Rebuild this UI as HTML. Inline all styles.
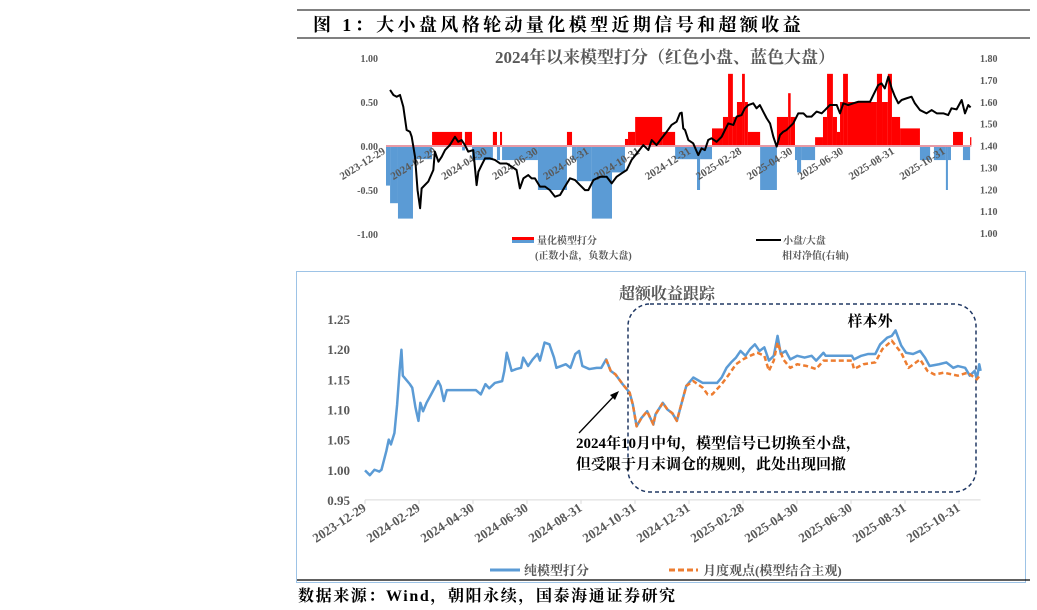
<!DOCTYPE html>
<html><head><meta charset="utf-8"><style>
html,body{margin:0;padding:0;background:#fff;}
svg{display:block;font-family:"Liberation Serif","Noto Serif CJK SC",serif;}
</style></head><body>
<svg id="c" width="1037" height="610" viewBox="0 0 1037 610" xmlns="http://www.w3.org/2000/svg">
<line x1="297" y1="10" x2="1030" y2="10" stroke="#000" stroke-width="1"/>
<text x="313" y="31" font-size="18" font-weight="bold" letter-spacing="3.4">图 1：大小盘风格轮动量化模型近期信号和超额收益</text>
<line x1="297" y1="38" x2="1030" y2="38" stroke="#000" stroke-width="1"/>
<g id="top"></g>
<rect x="296.5" y="271.5" width="729" height="311" fill="none" stroke="#9dc3e6" stroke-width="1"/>
<g id="bot"></g>
<line x1="297" y1="580" x2="1030" y2="580" stroke="#000" stroke-width="1.2"/>
<text x="298" y="601" font-size="16" font-weight="bold" letter-spacing="1.6">数据来源：Wind，朝阳永续，国泰海通证券研究</text>
</svg>
<script>
const NS="http://www.w3.org/2000/svg";
const dateTicks=["2023-12-29","2024-02-29","2024-04-30","2024-06-30","2024-08-31","2024-10-31","2024-12-31","2025-02-28","2025-04-30","2025-06-30","2025-08-31","2025-10-31"];
const tickMonths=[0,2,4,6,8,10,12,14,16,18,20,22];
const leftTicks=[1.00,0.50,0.00,-0.50,-1.00];
const rightTicks=[1.80,1.70,1.60,1.50,1.40,1.30,1.20,1.10,1.00];
const scoreT=[0,0.16,0.47,1.06,1.81,2.99,3.10,3.38,4.20,4.36,4.48,4.56,5.97,7.11,7.31,7.50,8.09,8.88,9.39,9.51,9.79,10.85,11.36,12.22,12.34,12.81,13.24,13.44,13.63,13.79,13.99,14.10,14.22,14.70,15.36,15.80,15.90,16.07,16.15,16.31,16.86,17.17,17.33,17.56,17.72,17.84,17.96,18.15,19.29,19.49,19.72,19.88,20.20,20.98,21.38,21.53,22.0,22.08,22.20,22.28,22.67,22.95,23.0];
const scoreV=[-0.45,-0.65,-0.825,-0.15,0.16,-0.05,0.16,-0.16,0.16,-0.16,0.16,-0.16,-0.5,0.16,-0.16,-0.4,-0.825,-0.3,0.08,0.16,0.33,0.16,-0.15,-0.5,-0.15,0.2,0.33,0.82,0.33,0.5,0.82,0.5,0.16,-0.5,0.33,0.6,0.33,-0.16,-0.3,-0.16,0.1,0.33,0.82,0.33,0.16,0.5,0.82,0.5,0.82,0.5,0.82,0.33,0.2,-0.16,0,-0.16,-0.5,-0.16,0,0.16,-0.16,0.1];
const navT=[0.16,0.29,0.42,0.55,0.68,0.81,0.94,1.01,1.14,1.24,1.34,1.40,1.66,1.86,1.92,2.06,2.19,2.32,2.51,2.71,2.84,2.97,3.10,3.23,3.43,3.56,3.63,3.76,3.89,4.09,4.28,4.48,4.74,4.94,5.13,5.26,5.40,5.59,5.72,5.85,6.05,6.25,6.44,6.64,6.84,7.03,7.23,7.43,7.62,7.82,7.95,8.15,8.41,8.67,8.87,9.06,9.26,9.46,9.65,9.91,10.11,10.31,10.44,10.63,10.83,11.03,11.22,11.42,11.55,11.62,11.68,11.75,11.88,12.07,12.27,12.40,12.53,12.66,12.79,12.99,13.19,13.32,13.45,13.65,13.78,13.97,14.10,14.24,14.43,14.56,14.69,14.82,14.96,15.09,15.22,15.35,15.48,15.61,15.74,15.87,16.00,16.20,16.40,16.53,16.72,16.92,17.12,17.25,17.44,17.71,17.84,17.97,18.16,18.36,18.56,18.82,19.02,19.15,19.34,19.47,19.60,19.74,19.87,20.00,20.13,20.26,20.46,20.65,20.78,20.98,21.24,21.44,21.64,21.90,22.09,22.22,22.42,22.62,22.75,22.88,22.97];
const navV=[1.654,1.631,1.623,1.631,1.577,1.471,1.463,1.440,1.349,1.196,1.113,1.204,1.235,1.288,1.372,1.326,1.349,1.379,1.402,1.440,1.417,1.425,1.402,1.372,1.379,1.219,1.280,1.311,1.341,1.341,1.334,1.318,1.318,1.303,1.288,1.204,1.250,1.265,1.250,1.250,1.212,1.212,1.196,1.166,1.174,1.212,1.250,1.242,1.219,1.196,1.196,1.242,1.257,1.257,1.227,1.257,1.273,1.288,1.334,1.372,1.402,1.379,1.425,1.402,1.433,1.463,1.494,1.509,1.547,1.550,1.478,1.471,1.425,1.410,1.356,1.387,1.379,1.425,1.433,1.417,1.440,1.471,1.501,1.494,1.532,1.539,1.570,1.585,1.593,1.570,1.585,1.555,1.524,1.501,1.440,1.395,1.448,1.463,1.471,1.486,1.501,1.547,1.547,1.532,1.532,1.555,1.547,1.562,1.585,1.585,1.547,1.593,1.585,1.593,1.600,1.600,1.600,1.631,1.676,1.684,1.661,1.715,1.661,1.623,1.593,1.608,1.616,1.623,1.593,1.562,1.547,1.562,1.547,1.547,1.539,1.570,1.565,1.608,1.547,1.585,1.574];
const retTicks=[1.25,1.20,1.15,1.10,1.05,1.00,0.95];
const pureT=[0,0.18,0.35,0.53,0.61,0.79,0.88,0.96,1.09,1.19,1.28,1.35,1.40,1.66,1.75,1.87,1.98,2.05,2.15,2.28,2.45,2.71,2.80,2.92,3.03,4.11,4.29,4.46,4.60,4.81,5.08,5.16,5.25,5.43,5.60,5.78,5.86,6.04,6.21,6.39,6.48,6.65,6.83,7.00,7.09,7.26,7.44,7.61,7.79,7.93,8.05,8.31,8.58,8.75,8.93,9.10,9.28,9.54,9.80,9.92,10.06,10.24,10.45,10.68,10.76,11.03,11.20,11.38,11.55,11.73,11.90,12.16,12.51,13.04,13.21,13.39,13.56,13.74,13.91,14.09,14.26,14.44,14.61,14.79,14.96,15.14,15.28,15.40,15.58,15.75,16.01,16.28,16.54,16.71,16.98,17.06,18.03,18.11,18.38,18.64,18.90,19.08,19.34,19.51,19.65,19.86,20.04,20.30,20.56,20.74,20.91,21.26,21.53,21.79,21.96,22.23,22.40,22.58,22.66,22.75,22.80];
const pureV=[0.999,0.991,1.0,0.997,1.0,1.031,1.05,1.042,1.061,1.108,1.164,1.199,1.156,1.142,1.136,1.103,1.081,1.111,1.097,1.111,1.125,1.147,1.139,1.114,1.132,1.132,1.125,1.142,1.135,1.144,1.147,1.164,1.194,1.164,1.167,1.169,1.186,1.172,1.183,1.192,1.181,1.211,1.208,1.186,1.169,1.172,1.175,1.169,1.192,1.197,1.172,1.167,1.169,1.169,1.183,1.164,1.158,1.142,1.128,1.108,1.072,1.086,1.097,1.075,1.092,1.111,1.100,1.094,1.081,1.111,1.139,1.153,1.144,1.144,1.153,1.169,1.178,1.186,1.197,1.189,1.200,1.208,1.197,1.203,1.181,1.189,1.222,1.192,1.197,1.183,1.189,1.186,1.189,1.181,1.194,1.189,1.189,1.183,1.189,1.192,1.192,1.208,1.219,1.222,1.231,1.206,1.194,1.192,1.197,1.186,1.172,1.175,1.178,1.169,1.172,1.169,1.156,1.164,1.150,1.175,1.164];
const monT=[8.93,9.10,9.28,9.54,9.80,9.92,10.06,10.24,10.45,10.68,10.76,11.03,11.20,11.38,11.55,11.73,11.90,12.16,12.51,12.69,12.86,13.21,13.48,13.74,14.00,14.26,14.53,14.79,14.96,15.14,15.28,15.49,15.75,16.01,16.36,16.71,16.98,18.03,18.11,18.46,18.90,19.16,19.51,19.86,20.13,20.56,20.83,21.09,21.44,21.96,22.32,22.66,22.80];
const monV=[1.183,1.164,1.158,1.142,1.128,1.108,1.072,1.086,1.097,1.075,1.092,1.111,1.100,1.094,1.081,1.111,1.139,1.147,1.136,1.125,1.125,1.142,1.158,1.175,1.183,1.189,1.194,1.189,1.164,1.181,1.211,1.183,1.169,1.175,1.172,1.167,1.181,1.181,1.167,1.175,1.178,1.200,1.214,1.194,1.169,1.183,1.164,1.158,1.161,1.156,1.161,1.150,1.158];

const tx=t=>386+t*25.45, sy=v=>146-v*88, ry=v=>58+(1.80-v)*218.75;
const bx=t=>365+t*27.0, by=v=>319+(1.25-v)*603;

function mk(parent,tag,attrs,txt){const e=document.createElementNS(NS,tag);for(const k in attrs)e.setAttribute(k,attrs[k]);if(txt!==undefined)e.textContent=txt;parent.appendChild(e);return e;}
const gTop=document.getElementById('top'), gBot=document.getElementById('bot');
const gray="#595959";

let e=mk(gTop,'text',{x:665,y:63,'text-anchor':'middle','font-size':17,'font-weight':'bold',fill:gray},'2024年以来模型打分（红色小盘、蓝色大盘）');


leftTicks.forEach(v=>{const l=mk(gTop,'text',{x:378,y:sy(v)+4,'text-anchor':'end','font-size':10,'font-weight':'bold',fill:gray},v.toFixed(2));

});
rightTicks.forEach(v=>{const l=mk(gTop,'text',{x:980,y:ry(v)+4,'font-size':10,'font-weight':'bold',fill:gray},v.toFixed(2));

});
for(let i=0;i<scoreV.length;i++){const v=scoreV[i];if(v===0)continue;const x0=tx(scoreT[i]),x1=tx(scoreT[i+1]);
const r=mk(gTop,'rect',{x:x0,y:Math.min(sy(v),sy(0)),width:Math.max(0.5,x1-x0),height:Math.abs(sy(v)-sy(0)),fill:v>0?'#ff0000':'#5b9bd5'});

}
e=mk(gTop,'line',{x1:tx(0),x2:tx(23),y1:sy(0),y2:sy(0),stroke:'#e79aa6','stroke-width':2});


dateTicks.forEach((d,i)=>{const x=tx(tickMonths[i]);const l=mk(gTop,'text',{x:x,y:153,'text-anchor':'end','font-size':11,'font-weight':'bold',fill:gray,transform:`rotate(-32 ${x} 153)`},d);

});
e=mk(gTop,'polyline',{points:navT.map((t,i)=>tx(t)+','+ry(navV[i])).join(' '),fill:'none',stroke:'#000','stroke-width':2,'stroke-linejoin':'round'});


e=mk(gTop,'rect',{x:512,y:237,width:22,height:3,fill:'#ff0000'});


e=mk(gTop,'rect',{x:512,y:240,width:22,height:3,fill:'#5b9bd5'});


e=mk(gTop,'text',{x:537,y:244,'font-size':10,'font-weight':'bold',fill:gray},'量化模型打分');


e=mk(gTop,'text',{x:535,y:259,'font-size':10,'font-weight':'bold',fill:gray},'(正数小盘，负数大盘)');


e=mk(gTop,'line',{x1:756,x2:781,y1:240,y2:240,stroke:'#000','stroke-width':2});


e=mk(gTop,'text',{x:783,y:244,'font-size':10,'font-weight':'bold',fill:gray},'小盘/大盘');


e=mk(gTop,'text',{x:782,y:259,'font-size':10,'font-weight':'bold',fill:gray},'相对净值(右轴)');



e=mk(gBot,'text',{x:667,y:299,'text-anchor':'middle','font-size':16,'font-weight':'bold',fill:gray},'超额收益跟踪');


retTicks.forEach(v=>{const l=mk(gBot,'text',{x:350,y:by(v)+5,'text-anchor':'end','font-size':13,'font-weight':'bold',fill:gray},v.toFixed(2));

});
e=mk(gBot,'line',{x1:bx(0),x2:bx(22.8),y1:by(0.95),y2:by(0.95),stroke:'#d9d9d9','stroke-width':1});


dateTicks.forEach((d,i)=>{const x=bx(tickMonths[i]);const tk=mk(gBot,'line',{x1:x,x2:x,y1:by(0.95),y2:by(0.95)+4,stroke:'#d9d9d9'});


const l=mk(gBot,'text',{x:x+2,y:510,'text-anchor':'end','font-size':13,'font-weight':'bold',fill:gray,transform:`rotate(-33 ${x+2} 510)`},d);

});
e=mk(gBot,'rect',{x:628,y:304,width:348,height:188,rx:22,ry:22,fill:'none',stroke:'#203864','stroke-width':1.5,'stroke-dasharray':'4,3'});


e=mk(gBot,'polyline',{points:pureT.map((t,i)=>bx(t)+','+by(pureV[i])).join(' '),fill:'none',stroke:'#5b9bd5','stroke-width':2.5,'stroke-linejoin':'round'});


e=mk(gBot,'polyline',{points:monT.map((t,i)=>bx(t)+','+by(monV[i])).join(' '),fill:'none',stroke:'#ed7d31','stroke-width':2.5,'stroke-dasharray':'5,3','stroke-linejoin':'round'});


e=mk(gBot,'text',{x:870,y:326,'text-anchor':'middle','font-size':15,'font-weight':'bold',fill:'#000'},'样本外');


e=mk(gBot,'line',{x1:579,y1:433,x2:615,y2:395,stroke:'#000','stroke-width':1.3});


e=mk(gBot,'polygon',{points:'619,391 610,395 615,400',fill:'#000'});


e=mk(gBot,'text',{x:576,y:448,'font-size':15,'font-weight':'bold',fill:'#000'},'2024年10月中旬，模型信号已切换至小盘，');


e=mk(gBot,'text',{x:576,y:469,'font-size':15,'font-weight':'bold',fill:'#000'},'但受限于月末调仓的规则，此处出现回撤');


e=mk(gBot,'line',{x1:490,x2:520,y1:570,y2:570,stroke:'#5b9bd5','stroke-width':3});


e=mk(gBot,'text',{x:524,y:575,'font-size':13,'font-weight':'bold',fill:gray},'纯模型打分');


e=mk(gBot,'line',{x1:669,x2:698,y1:570,y2:570,stroke:'#ed7d31','stroke-width':3,'stroke-dasharray':'6,3'});


e=mk(gBot,'text',{x:703,y:575,'font-size':13,'font-weight':'bold',fill:gray},'月度观点(模型结合主观)');


</script>
</body></html>
